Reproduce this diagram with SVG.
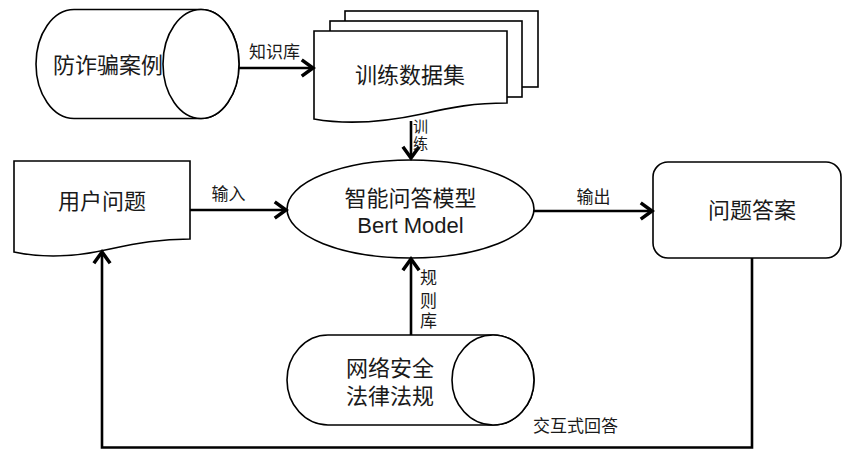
<svg xmlns="http://www.w3.org/2000/svg" width="844" height="450" viewBox="0 0 844 450">
<defs>
<style>
.shape{fill:#fff;stroke:#000;stroke-width:1.6}
.edge{fill:none;stroke:#000;stroke-width:2.6}
.t{font-family:"Liberation Sans","Noto Sans CJK SC",sans-serif;fill:#1a1a1a}
.big{font-size:22px;text-anchor:middle}
.sm{font-size:17px}
</style>
<marker id="arr" markerUnits="userSpaceOnUse" markerWidth="20" markerHeight="20" viewBox="-12 -8 14 16" refX="0" refY="0" orient="auto">
<path d="M-9,-6.5 L0,0 L-9,6.5" fill="none" stroke="#000" stroke-width="2.8" stroke-linejoin="miter"/>
</marker>
</defs>
<rect width="844" height="450" fill="#fff"/>

<g id="fraud-cases">
<path class="shape" d="M74,9.5 H201 A38,54.5 0 0 1 201,118.5 H74 A38,54.5 0 0 1 74,9.5 Z"/>
<ellipse class="shape" cx="201" cy="64" rx="38" ry="54.5"/>
<text class="t big" x="108" y="73">防诈骗案例</text>
</g>

<g id="training-set">
<rect class="shape" x="345" y="11" width="193" height="76"/>
<rect class="shape" x="330" y="21" width="192" height="76"/>
<path class="shape" d="M314,31 H507 V103 C475,103 452,107 422,114 C385,122 348,125 314,119 Z"/>
<text class="t big" x="410" y="83">训练数据集</text>
</g>

<g id="user-question">
<path class="shape" d="M14,161 H190 V239 C160,239 138,243 110,249 C76,257 42,258 14,252 Z"/>
<text class="t big" x="102" y="209">用户问题</text>
</g>

<g id="qa-model">
<ellipse class="shape" cx="410.5" cy="209" rx="123.5" ry="49"/>
<text class="t big" x="410.5" y="206">智能问答模型</text>
<text class="t big" x="410.5" y="233">Bert Model</text>
</g>

<g id="answer">
<rect class="shape" x="653" y="162" width="188" height="96" rx="15" ry="15"/>
<text class="t big" x="752" y="218">问题答案</text>
</g>

<g id="law">
<path class="shape" d="M328,335 H493 A41,45 0 0 1 493,425 H328 A41,45 0 0 1 328,335 Z"/>
<ellipse class="shape" cx="493" cy="380" rx="41" ry="45"/>
<text class="t big" x="390" y="376">网络安全</text>
<text class="t big" x="390" y="403.5">法律法规</text>
</g>

<g id="connectors">
<path class="edge" d="M239,68 H313" marker-end="url(#arr)"/>
<path class="edge" d="M411,121 V158" marker-end="url(#arr)"/>
<path class="edge" d="M190,210 H286" marker-end="url(#arr)"/>
<path class="edge" d="M534,211 H652" marker-end="url(#arr)"/>
<path class="edge" d="M411,335 V259" marker-end="url(#arr)"/>
<path class="edge" d="M752,258 V447.5 H102 V252" marker-end="url(#arr)"/>
<text class="t sm" x="274.5" y="58" text-anchor="middle">知识库</text>
<text class="t" x="413" y="132" font-size="15">训</text>
<text class="t" x="413" y="149" font-size="15">练</text>
<text class="t sm" x="228.5" y="200" text-anchor="middle">输入</text>
<text class="t sm" x="593.5" y="203" text-anchor="middle">输出</text>
<text class="t sm" x="420" y="284">规</text>
<text class="t sm" x="420" y="306.5">则</text>
<text class="t sm" x="420" y="326.5">库</text>
<text class="t sm" x="533" y="432">交互式回答</text>
</g>
</svg>
